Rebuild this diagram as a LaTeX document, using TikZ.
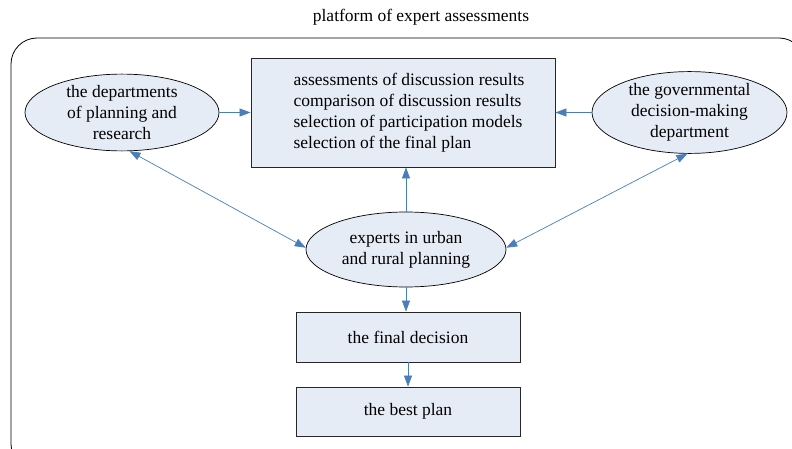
\documentclass[tikz,border=0pt]{standalone}
\usepackage{fontspec}
\setmainfont{Liberation Serif}
\usetikzlibrary{shapes.geometric,arrows.meta}
\definecolor{boxfill}{HTML}{E6ECF6}
\definecolor{arrowblue}{HTML}{4A7EBB}
\begin{document}
\begin{tikzpicture}[x=1pt,y=-1pt,
  every node/.style={font=\fontsize{17.5}{21}\selectfont, inner sep=0pt},
  oval/.style={ellipse, draw=black, line width=0.7pt, fill=boxfill, align=center},
  rbox/.style={rectangle, draw=black!85, line width=0.8pt, fill=boxfill, align=center},
  conn/.style={draw=arrowblue, line width=0.7pt, -{Triangle[length=11pt,width=8pt]}},
  dconn/.style={draw=arrowblue, line width=0.7pt, {Triangle[length=11pt,width=8pt]}-{Triangle[length=11pt,width=8pt]}}]
\useasboundingbox (0,0) rectangle (792,449);
\clip (0,0) rectangle (792,449);
\fill[white] (0,0) rectangle (792,449);
\draw[line width=0.8pt, rounded corners=26pt] (11,38) rectangle (805,470);
\node (T) at (421,17) {platform of expert assessments};
\node[rbox, minimum width=304pt, minimum height=109pt, align=left] (B) at (403,112.5)
  {\hspace*{12pt}assessments of discussion results\\\hspace*{12pt}comparison of discussion results\\\hspace*{12pt}selection of participation models\\\hspace*{12pt}selection of the final plan};
\node[oval, minimum width=194pt, minimum height=75pt] (L) at (122,112.5)
  {the departments\\of planning and\\research};
\node[oval, minimum width=195pt, minimum height=75pt] (R) at (689.5,112.5)
  {the governmental\\decision-making\\department};
\node[oval, minimum width=200pt, minimum height=75pt] (M) at (406,249.5)
  {experts in urban\\and rural planning};
\node[rbox, minimum width=224pt, minimum height=50pt] (F) at (408,337) {the final decision};
\node[rbox, minimum width=224pt, minimum height=49pt] (P) at (408,411.5) {the best plan};
\draw[conn] (L.east) -- (B.west |- L.east);
\draw[conn] (R.west) -- (B.east |- R.west);
\draw[conn] (M.north) -- (B.south -| M.north);
\draw[dconn] (L.-79) -- (M.179);
\draw[dconn] (R.-93) -- (M.1);
\draw[conn] (M.south) -- (F.north -| M.south);
\draw[conn] (F.south) -- (P.north);
\end{tikzpicture}
\end{document}
